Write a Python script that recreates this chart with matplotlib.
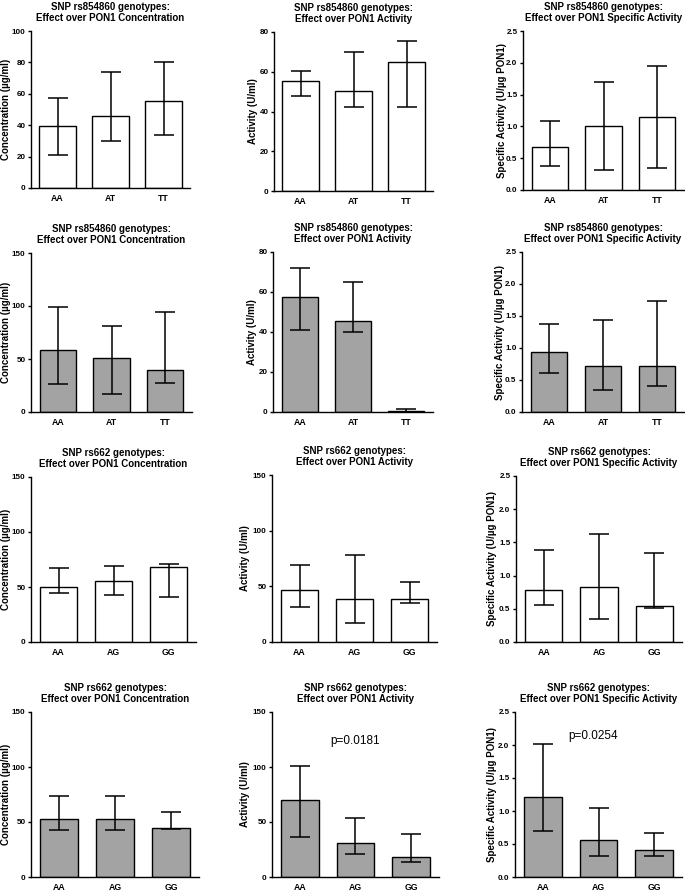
import numpy as np
import matplotlib
matplotlib.use('Agg')
import matplotlib.pyplot as plt

plt.rcParams['font.family'] = ['Liberation Sans', 'DejaVu Sans']

# Genotypes
geno_854 = ['AA', 'AT', 'TT']
geno_662 = ['AA', 'AG', 'GG']

# rs854860, first group (white bars): median, lower and upper whisker
conc_854_w = [39.4, 45.7, 55.2]
conc_854_w_lo = [20.8, 29.9, 33.9]
conc_854_w_hi = [57.5, 73.9, 80.0]
act_854_w = [55.2, 50.5, 64.7]
act_854_w_lo = [47.8, 42.4, 42.4]
act_854_w_hi = [60.5, 69.8, 75.5]
spec_854_w = [0.67, 1.01, 1.14]
spec_854_w_lo = [0.38, 0.31, 0.34]
spec_854_w_hi = [1.09, 1.70, 1.95]

# rs854860, second group (grey bars)
conc_854_g = [58.2, 50.9, 39.6]
conc_854_g_lo = [26.7, 17.3, 27.7]
conc_854_g_hi = [99.1, 81.1, 94.3]
act_854_g = [57.4, 45.7, 0.6]
act_854_g_lo = [40.8, 40.0, 0.2]
act_854_g_hi = [72.0, 64.8, 1.5]
spec_854_g = [0.94, 0.72, 0.72]
spec_854_g_lo = [0.61, 0.35, 0.41]
spec_854_g_hi = [1.37, 1.44, 1.73]

# rs662, first group (white bars)
conc_662_w = [50.4, 55.3, 68.3]
conc_662_w_lo = [44.3, 43.1, 40.7]
conc_662_w_hi = [67.4, 69.2, 71.1]
act_662_w = [47.1, 38.4, 38.4]
act_662_w_lo = [31.2, 17.4, 35.1]
act_662_w_hi = [69.0, 78.3, 54.3]
spec_662_w = [0.79, 0.83, 0.54]
spec_662_w_lo = [0.56, 0.34, 0.51]
spec_662_w_hi = [1.39, 1.63, 1.34]

# rs662, second group (grey bars)
conc_662_g = [52.5, 52.5, 45.0]
conc_662_g_lo = [42.3, 42.3, 43.5]
conc_662_g_hi = [73.3, 73.3, 59.5]
act_662_g = [70.3, 30.8, 18.1]
act_662_g_lo = [36.8, 20.5, 13.3]
act_662_g_hi = [101.1, 53.7, 39.2]
spec_662_g = [1.21, 0.56, 0.41]
spec_662_g_lo = [0.69, 0.32, 0.32]
spec_662_g_hi = [2.02, 1.04, 0.66]

p_act_662 = 'p=0.0181'
p_spec_662 = 'p=0.0254'

lab_conc = 'Concentration (µg/ml)'
lab_act = 'Activity (U/ml)'
lab_spec = 'Specific Activity (U/µg PON1)'
t_conc = 'Effect over PON1 Concentration'
t_act = 'Effect over PON1 Activity'
t_spec = 'Effect over PON1 Specific Activity'

W, H = 685, 890
fig = plt.figure(figsize=(W / 100, H / 100), dpi=100)

GREY = '#a3a3a3'


def panel(box, lab_px, snp, geno, vals, lo, hi, color, ylab, sub, ymax, yticks, fmt, ptxt=None, pxy=None):
    l, t, r, b = box
    ax = fig.add_axes([l / W, 1 - b / H, (r - l) / W, (b - t) / H])
    x = np.arange(len(geno))
    vals = np.array(vals)
    err = [vals - np.array(lo), np.array(hi) - vals]
    ax.bar(x, vals, width=0.68, color=color, edgecolor='black', linewidth=1.0, zorder=2)
    ax.errorbar(x, vals, yerr=err, fmt='none', ecolor='black', elinewidth=1.1,
                capsize=7, capthick=1.1, zorder=3)
    ax.set_xlim(-0.5, 2.5)
    ax.set_ylim(0, ymax)
    ax.set_yticks(yticks)
    ax.set_yticklabels([fmt.format(v) for v in yticks])
    ax.set_xticks(x)
    ax.set_xticklabels(geno)
    for s in ['top', 'right']:
        ax.spines[s].set_visible(False)
    for s in ['left', 'bottom']:
        ax.spines[s].set_linewidth(1.0)
    ax.tick_params(axis='y', length=2.5, width=1.0, pad=1.5)
    ax.tick_params(axis='x', length=0, pad=4)
    for lbl in ax.get_yticklabels():
        lbl.set_fontsize(5.8)
        lbl.set_fontweight('bold')
    for lbl in ax.get_xticklabels():
        lbl.set_fontsize(6.3)
        lbl.set_fontweight('bold')
    ax.set_ylabel(ylab, fontsize=7, fontweight='bold')
    ax.yaxis.set_label_coords((lab_px + 5 - l) / (r - l), 0.5)
    ax.annotate('SNP %s genotypes:\n%s' % (snp, sub), xy=(0.5, 1), xycoords='axes fraction',
                xytext=(0, 6), textcoords='offset points', ha='center', va='bottom',
                fontsize=7, fontweight='bold', linespacing=1.1)
    if ptxt:
        ax.text(pxy[0], pxy[1], ptxt, ha='center', va='center', fontsize=8.5)
    return ax


t100 = [0, 20, 40, 60, 80, 100]
t80 = [0, 20, 40, 60, 80]
t150 = [0, 50, 100, 150]
t25 = [0.0, 0.5, 1.0, 1.5, 2.0, 2.5]

# row 1
panel((31, 31, 190, 188), 6, 'rs854860', geno_854, conc_854_w, conc_854_w_lo, conc_854_w_hi,
      'white', lab_conc, t_conc, 100, t100, '{:d}')
panel((274, 32, 433, 191), 253, 'rs854860', geno_854, act_854_w, act_854_w_lo, act_854_w_hi,
      'white', lab_act, t_act, 80, t80, '{:d}')
panel((523, 31, 684, 190), 502, 'rs854860', geno_854, spec_854_w, spec_854_w_lo, spec_854_w_hi,
      'white', lab_spec, t_spec, 2.5, t25, '{:.1f}')
# row 2
panel((31, 253, 192, 412), 6, 'rs854860', geno_854, conc_854_g, conc_854_g_lo, conc_854_g_hi,
      GREY, lab_conc, t_conc, 150, t150, '{:d}')
panel((273, 252, 433, 412), 252, 'rs854860', geno_854, act_854_g, act_854_g_lo, act_854_g_hi,
      GREY, lab_act, t_act, 80, t80, '{:d}')
panel((522, 252, 684, 412), 500, 'rs854860', geno_854, spec_854_g, spec_854_g_lo, spec_854_g_hi,
      GREY, lab_spec, t_spec, 2.5, t25, '{:.1f}')
# row 3
panel((31, 477, 196, 642), 6, 'rs662', geno_662, conc_662_w, conc_662_w_lo, conc_662_w_hi,
      'white', lab_conc, t_conc, 150, t150, '{:d}')
panel((272, 475, 437, 642), 245, 'rs662', geno_662, act_662_w, act_662_w_lo, act_662_w_hi,
      'white', lab_act, t_act, 150, t150, '{:d}')
panel((516, 476, 682, 642), 492, 'rs662', geno_662, spec_662_w, spec_662_w_lo, spec_662_w_hi,
      'white', lab_spec, t_spec, 2.5, t25, '{:.1f}')
# row 4
panel((31, 712, 199, 877), 6, 'rs662', geno_662, conc_662_g, conc_662_g_lo, conc_662_g_hi,
      GREY, lab_conc, t_conc, 150, t150, '{:d}')
panel((272, 712, 439, 877), 245, 'rs662', geno_662, act_662_g, act_662_g_lo, act_662_g_hi,
      GREY, lab_act, t_act, 150, t150, '{:d}', p_act_662, (1.0, 124))
panel((515, 712, 682, 877), 492, 'rs662', geno_662, spec_662_g, spec_662_g_lo, spec_662_g_hi,
      GREY, lab_spec, t_spec, 2.5, t25, '{:.1f}', p_spec_662, (0.9, 2.14))

fig.savefig('out.png', dpi=100, facecolor='white')
